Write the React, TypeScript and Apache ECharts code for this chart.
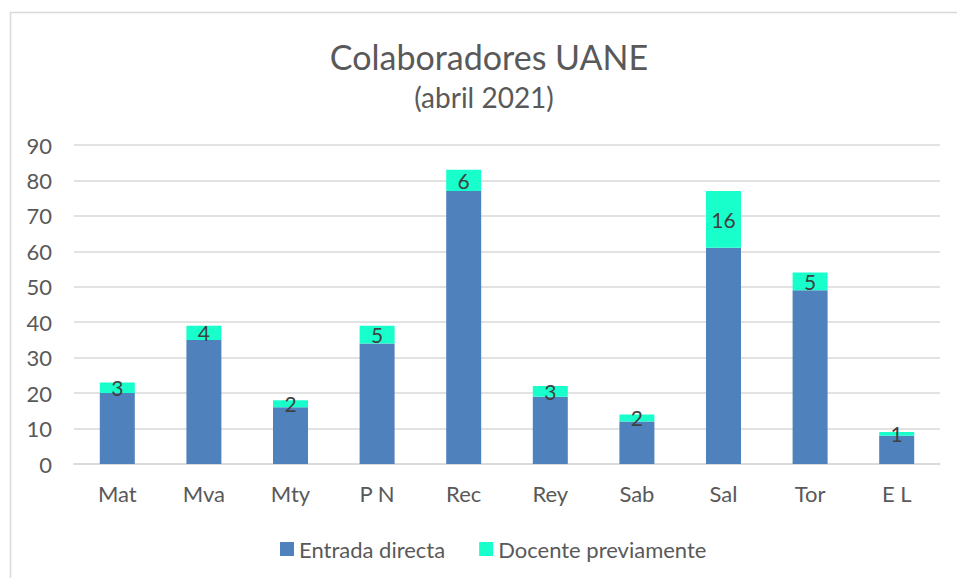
import React, { useEffect, useRef } from "react";
import * as echarts from "echarts";

const categories = ["Mat", "Mva", "Mty", "P N", "Rec", "Rey", "Sab", "Sal", "Tor", "E L"];
const entradaDirecta = [20, 35, 16, 34, 77, 19, 12, 61, 49, 8];
const docentePreviamente = [3, 4, 2, 5, 6, 3, 2, 16, 5, 1];
const seriesNames = ["Entrada directa", "Docente previamente"];
const titleText = "Colaboradores UANE";
const subtitleText = "(abril 2021)";

const FONT = "Lato, 'Noto Sans', sans-serif";

export default function App() {
  const ref = useRef<HTMLDivElement>(null);
  useEffect(() => {
    if (!ref.current) return;
    const chart = echarts.init(ref.current, undefined, { renderer: "svg" });
    chart.setOption({
      animation: false,
      backgroundColor: "#ffffff",
      textStyle: { fontFamily: FONT },
      graphic: [
        {
          type: "rect",
          shape: { x: 10.5, y: 12.5, width: 1000, height: 1000 },
          style: { fill: "none", stroke: "#d9d9d9", lineWidth: 1.5 },
          silent: true,
        },
        {
          type: "text",
          x: 489,
          y: 56,
          style: {
            text: titleText,
            fill: "#595959",
            font: `34px ${FONT}`,
            textAlign: "center",
            textVerticalAlign: "middle",
          },
        },
        {
          type: "text",
          x: 484,
          y: 97,
          style: {
            text: subtitleText,
            fill: "#595959",
            font: `28px ${FONT}`,
            textAlign: "center",
            textVerticalAlign: "middle",
          },
        },
      ],
      legend: {
        data: seriesNames,
        left: 275,
        top: 533,
        icon: "rect",
        itemWidth: 14,
        itemHeight: 14,
        itemGap: 34,
        textStyle: { fontSize: 22, color: "#595959", fontFamily: FONT },
      },
      grid: { left: 74, right: 17, top: 145, height: 319 },
      xAxis: {
        type: "category",
        data: categories,
        axisLine: { lineStyle: { color: "#d9d9d9", width: 1.5 } },
        axisTick: { show: false },
        axisLabel: { fontSize: 22, color: "#595959", margin: 18, fontFamily: FONT },
      },
      yAxis: {
        type: "value",
        min: 0,
        max: 90,
        interval: 10,
        axisLine: { show: false },
        axisTick: { show: false },
        splitLine: { lineStyle: { color: "#d9d9d9", width: 1.5 } },
        axisLabel: { fontSize: 22, color: "#595959", margin: 22, fontFamily: FONT },
      },
      series: [
        {
          name: seriesNames[0],
          type: "bar",
          stack: "total",
          barWidth: 35,
          data: entradaDirecta,
          itemStyle: { color: "#4f81bd" },
        },
        {
          name: seriesNames[1],
          type: "bar",
          stack: "total",
          barWidth: 35,
          data: docentePreviamente,
          itemStyle: { color: "#19ffcc" },
          label: {
            show: true,
            position: "inside",
            color: "#404040",
            fontSize: 21,
            fontFamily: FONT,
          },
        },
      ],
    });
    return () => chart.dispose();
  }, []);
  return (
    <div
      ref={ref}
      style={{ position: "fixed", left: 0, top: 0, width: 957, height: 578 }}
    />
  );
}
